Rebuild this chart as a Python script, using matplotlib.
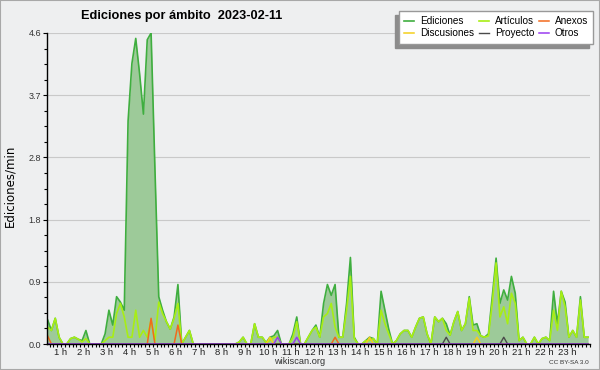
import matplotlib
matplotlib.use('Agg')
import matplotlib.pyplot as plt
from matplotlib.patches import Rectangle
from matplotlib.ticker import AutoMinorLocator, FormatStrFormatter, MultipleLocator
import numpy as np

plt.rcParams['font.family'] = ['Liberation Sans', 'DejaVu Sans']

# edits per minute, one value per 10-minute slot (144 slots, 12 per row = 2 h)
ediciones = [
    0.30, 0.40, 0.36, 0.20, 0.38, 0.10, 0, 0, 0.08, 0.10, 0.07, 0.05,
    0.20, 0, 0, 0, 0, 0.15, 0.50, 0.28, 0.70, 0.62, 0.50, 3.30,
    4.15, 4.52, 4.00, 3.40, 4.50, 4.60, 2.60, 0.70, 0.50, 0.33, 0.22, 0.40,
    0.88, 0, 0.10, 0.20, 0, 0, 0, 0, 0, 0, 0, 0,
    0, 0, 0, 0, 0.03, 0.10, 0, 0, 0.30, 0.10, 0.10, 0.02,
    0.10, 0.12, 0.20, 0, 0, 0, 0.15, 0.40, 0, 0, 0.10, 0.20,
    0.28, 0.10, 0.60, 0.88, 0.72, 0.88, 0.10, 0.10, 0.60, 1.28, 0.10, 0,
    0, 0.05, 0.10, 0.08, 0, 0.78, 0.50, 0.22, 0, 0.05, 0.15, 0.20,
    0.20, 0.10, 0.25, 0.38, 0.40, 0.15, 0, 0.40, 0.33, 0.38, 0.30, 0.13,
    0.33, 0.48, 0.20, 0.30, 0.70, 0.28, 0.30, 0.12, 0.10, 0.15, 0.70, 1.27,
    0.60, 0.80, 0.65, 1.00, 0.75, 0.05, 0.10, 0, 0, 0.10, 0, 0.08,
    0.10, 0.05, 0.78, 0.30, 0.78, 0.62, 0.10, 0.20, 0.10, 0.70, 0.10, 0.10,
]
articulos = [
    0.20, 0.30, 0.25, 0.20, 0.38, 0.10, 0, 0, 0.08, 0.10, 0.07, 0.03,
    0.08, 0, 0, 0, 0, 0.05, 0.10, 0.10, 0.45, 0.60, 0.40, 0.10,
    0.10, 0.50, 0.10, 0.20, 0.10, 0.35, 0.05, 0.62, 0.45, 0.33, 0.22, 0.38,
    0.60, 0, 0.10, 0.20, 0, 0, 0, 0, 0, 0, 0, 0,
    0, 0, 0, 0, 0.03, 0.10, 0, 0, 0.30, 0.10, 0.10, 0.02,
    0.05, 0.10, 0.10, 0, 0, 0, 0.10, 0.33, 0, 0, 0.10, 0.20,
    0.25, 0.10, 0.40, 0.45, 0.60, 0.25, 0.10, 0.10, 0.50, 1.00, 0.08, 0,
    0, 0.05, 0.05, 0.08, 0, 0.50, 0.30, 0.15, 0, 0.05, 0.15, 0.20,
    0.20, 0.10, 0.25, 0.38, 0.40, 0.15, 0, 0.40, 0.33, 0.38, 0.20, 0.13,
    0.33, 0.48, 0.20, 0.30, 0.68, 0.20, 0.20, 0.12, 0.10, 0.12, 0.60, 1.20,
    0.40, 0.55, 0.30, 0.75, 0.60, 0.05, 0.10, 0, 0, 0.10, 0, 0.08,
    0.10, 0.05, 0.50, 0.20, 0.78, 0.55, 0.10, 0.20, 0.10, 0.65, 0.10, 0.10,
]
anexos = [
    0, 0.30, 0.12, 0, 0, 0, 0, 0, 0, 0, 0, 0,
    0, 0, 0, 0, 0, 0, 0, 0, 0, 0, 0, 0,
    0, 0, 0, 0, 0, 0.38, 0, 0, 0, 0, 0, 0,
    0.28, 0, 0, 0, 0, 0, 0, 0, 0, 0, 0, 0,
    0, 0, 0, 0, 0, 0, 0, 0, 0, 0, 0, 0,
    0, 0, 0, 0, 0, 0, 0, 0, 0, 0, 0, 0,
    0, 0, 0, 0, 0, 0.10, 0, 0, 0, 0, 0, 0,
    0, 0, 0, 0, 0, 0, 0, 0, 0, 0, 0, 0,
    0, 0, 0, 0, 0, 0, 0, 0, 0, 0, 0, 0,
    0, 0, 0, 0, 0, 0, 0, 0, 0, 0, 0, 0,
    0, 0, 0, 0, 0, 0, 0, 0, 0, 0, 0, 0,
    0, 0, 0, 0, 0, 0, 0, 0, 0, 0, 0, 0,
]
discusiones = [
    0, 0, 0, 0, 0, 0, 0, 0, 0, 0, 0, 0,
    0, 0, 0, 0, 0, 0, 0, 0, 0, 0, 0, 0,
    0, 0, 0, 0, 0, 0, 0, 0, 0, 0, 0, 0,
    0, 0, 0, 0, 0, 0, 0, 0, 0, 0, 0, 0,
    0, 0, 0, 0, 0, 0, 0, 0, 0, 0, 0, 0,
    0.10, 0, 0, 0, 0, 0, 0, 0, 0, 0, 0, 0,
    0, 0, 0, 0, 0, 0, 0, 0, 0, 0, 0, 0,
    0, 0, 0.10, 0, 0, 0, 0, 0, 0, 0, 0, 0,
    0, 0, 0, 0, 0, 0, 0, 0, 0, 0, 0, 0,
    0, 0, 0, 0, 0, 0, 0.10, 0, 0, 0, 0, 0,
    0, 0, 0, 0, 0, 0, 0, 0, 0, 0, 0, 0,
    0, 0, 0, 0, 0, 0, 0, 0, 0, 0, 0, 0,
]
proyecto = [
    0, 0, 0, 0, 0, 0, 0, 0, 0, 0, 0, 0,
    0, 0, 0, 0, 0, 0, 0, 0, 0, 0, 0, 0,
    0, 0, 0, 0, 0, 0, 0, 0, 0, 0, 0, 0,
    0, 0, 0, 0, 0, 0, 0, 0, 0, 0, 0, 0,
    0, 0, 0, 0, 0, 0, 0, 0, 0, 0, 0, 0,
    0, 0, 0, 0, 0, 0, 0, 0, 0, 0, 0, 0,
    0, 0, 0, 0, 0, 0, 0, 0, 0, 0, 0, 0,
    0, 0, 0, 0, 0, 0, 0, 0, 0, 0, 0, 0,
    0, 0, 0, 0, 0, 0, 0, 0, 0, 0, 0.10, 0,
    0, 0, 0, 0, 0, 0, 0, 0, 0, 0, 0, 0,
    0, 0.10, 0, 0, 0, 0, 0, 0, 0, 0, 0, 0,
    0, 0, 0, 0, 0, 0, 0, 0, 0, 0, 0, 0,
]
otros = [
    0, 0, 0, 0, 0, 0, 0, 0, 0, 0, 0, 0,
    0, 0, 0, 0, 0, 0, 0, 0, 0, 0, 0, 0,
    0, 0, 0, 0, 0, 0, 0, 0, 0, 0, 0, 0,
    0, 0, 0, 0, 0, 0, 0, 0, 0, 0, 0, 0,
    0, 0, 0, 0, 0, 0, 0, 0, 0, 0, 0, 0,
    0, 0, 0.10, 0, 0, 0, 0, 0.10, 0, 0, 0, 0,
    0, 0, 0, 0, 0, 0, 0, 0, 0, 0, 0, 0,
    0, 0, 0, 0, 0, 0, 0, 0, 0, 0, 0, 0,
    0, 0, 0, 0, 0, 0, 0, 0, 0, 0, 0, 0,
    0, 0, 0, 0, 0, 0, 0, 0, 0, 0, 0, 0,
    0, 0, 0, 0, 0, 0, 0, 0, 0, 0, 0, 0,
    0, 0, 0, 0, 0, 0, 0, 0, 0, 0, 0, 0,
]
hour_labels = [f'{h} h' for h in range(1, 24)]

# slot centres in hours
slots = (np.arange(len(ediciones)) + 0.5) / 6

BG = '#eeeff0'
fig = plt.figure(figsize=(6, 3.7), dpi=100, facecolor=BG)
ax = fig.add_axes([47 / 600, 26 / 370, 543 / 600, 311 / 370], facecolor=BG)

ax.fill_between(slots, ediciones, color='#9dca99', lw=0, zorder=1)
l_ed, = ax.plot(slots, ediciones, color='#3fae3f', lw=1.2, zorder=2)
l_art, = ax.plot(slots, articulos, color='#a8ee14', lw=1.2, zorder=3)
l_anx, = ax.plot(slots, anexos, color='#f2691c', lw=1.1, zorder=4)
l_dis, = ax.plot(slots, discusiones, color='#f4cf1c', lw=1.1, zorder=4)
l_pro, = ax.plot(slots, proyecto, color='#4a4a4a', lw=1.0, zorder=4)
l_otr, = ax.plot(slots, otros, color='#9a3cf0', lw=1.1, zorder=4)

ax.set_xlim(9 / 23, 24)
ax.set_ylim(0, 4.6)

# x axis: a tick every 10 minutes, hour labels
ax.set_xticks(range(1, 24))
ax.set_xticklabels(hour_labels)
ax.xaxis.set_minor_locator(MultipleLocator(1 / 6))
ax.tick_params(axis='x', which='both', length=2.2, width=0.8, direction='out',
               labelsize=6.8, pad=0.8, colors='black', labelcolor='#222222')

# y axis
ax.set_yticks(np.linspace(0, 4.6, 6))
ax.yaxis.set_major_formatter(FormatStrFormatter('%.1f'))
ax.yaxis.set_minor_locator(AutoMinorLocator(4))
ax.tick_params(axis='y', which='major', length=3, width=0.8, labelsize=6.5,
               pad=1.2, labelcolor='#333333')
ax.tick_params(axis='y', which='minor', length=2.2, width=0.8)
ax.yaxis.grid(True, color='#c9c9c9', lw=0.8)
ax.set_axisbelow(True)

for side in ('top', 'right'):
    ax.spines[side].set_visible(False)
for side in ('left', 'bottom'):
    ax.spines[side].set_linewidth(1.0)
    ax.spines[side].set_zorder(5)

fig.text(182 / 600, 1 - 16 / 370, 'Ediciones por ámbito  2023-02-11',
         ha='center', va='center', fontsize=9.2, fontweight='bold')
fig.text(10 / 600, 1 - 186 / 370, 'Ediciones/min', rotation=90,
         ha='center', va='center', fontsize=8.5, family=['DejaVu Sans'])
fig.text(300 / 600, 1 - 362 / 370, 'wikiscan.org', ha='center', va='center',
         fontsize=6.7, color='#333333')
fig.text(589 / 600, 1 - 362 / 370, 'CC BY-SA 3.0', ha='right', va='center',
         fontsize=4.6, color='#333333')

handles = [l_ed, l_dis, l_art, l_pro, l_anx, l_otr]
labels = ['Ediciones', 'Discusiones', 'Artículos', 'Proyecto', 'Anexos', 'Otros']
fig.legend(handles, labels, ncol=3, loc='upper right',
           bbox_to_anchor=(593 / 600, 1 - 11 / 370), borderaxespad=0,
           fontsize=7.2, frameon=True, fancybox=False, edgecolor='#999999',
           facecolor='white', framealpha=1, handlelength=1.0,
           handletextpad=0.6, columnspacing=0.45, labelspacing=0.25,
           borderpad=0.5,
           shadow={'ox': -3, 'oy': -3, 'color': '#8c8c8c', 'alpha': 1})

fig.patches.append(Rectangle((0, 0), 1, 1, transform=fig.transFigure,
                             fill=False, edgecolor='#a8a8a8', lw=1.5))

fig.savefig('out.png', dpi=100, facecolor=fig.get_facecolor())
